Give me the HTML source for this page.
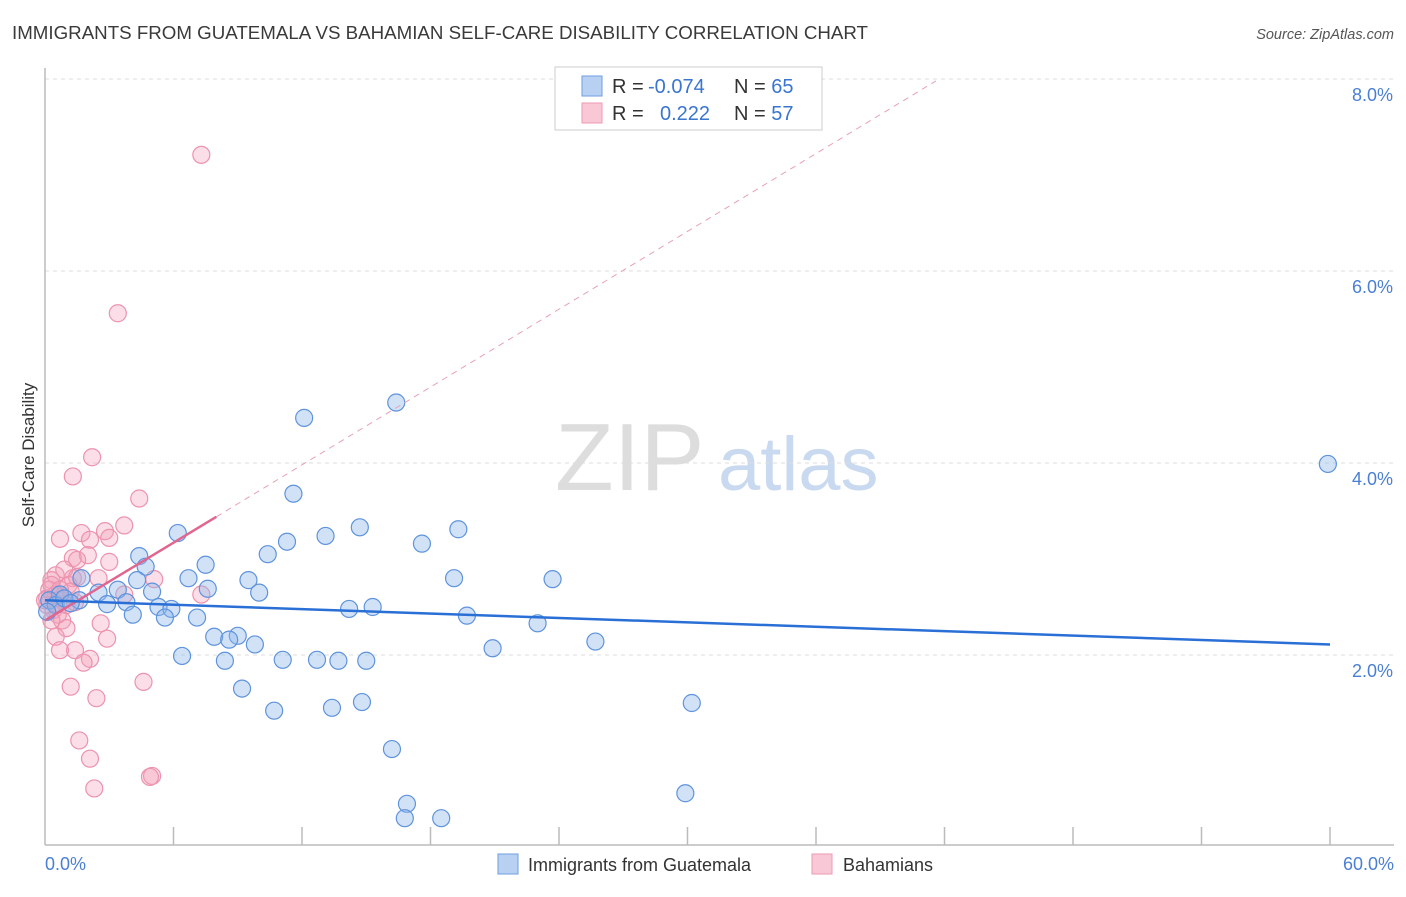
<!DOCTYPE html>
<html><head><meta charset="utf-8"><style>
body{margin:0;background:#fff;font-family:"Liberation Sans",sans-serif}
svg text{font-family:"Liberation Sans",sans-serif}
</style></head><body>
<svg id="chart" width="1406" height="892" viewBox="0 0 1406 892" xmlns="http://www.w3.org/2000/svg">
<text x="12" y="39" font-size="18.5" fill="#3a3a3a" textLength="856" lengthAdjust="spacingAndGlyphs">IMMIGRANTS FROM GUATEMALA VS BAHAMIAN SELF-CARE DISABILITY CORRELATION CHART</text>
<text x="1394" y="39" font-size="14.5" fill="#555" text-anchor="end" font-style="italic">Source: ZipAtlas.com</text>
<g>
<text x="555" y="490" font-size="96" fill="#ddd" font-family="Liberation Serif,serif">ZIP</text>
<text x="718" y="490" font-size="76" fill="#c9d9ef">atlas</text>
</g>
<g id="grid"></g>
<line x1="45" y1="68" x2="45" y2="845" stroke="#bbb" stroke-width="1.5"/>
<line x1="45" y1="845" x2="1394" y2="845" stroke="#bbb" stroke-width="1.5"/>
<g id="ticks"></g>
<text transform="translate(34,455) rotate(-90)" font-size="17" fill="#333" text-anchor="middle">Self-Care Disability</text>
<text x="45" y="870" font-size="18" fill="#4a7fd4">0.0%</text>
<text x="1394" y="870" font-size="18" fill="#4a7fd4" text-anchor="end">60.0%</text>
<g id="points"></g>
<g id="trends"></g>
<g>
<rect x="555" y="67" width="267" height="63" fill="#fff" stroke="#ccc"/>
<rect x="582" y="76" width="20" height="20" fill="#b8d1f3" stroke="#6f9ee0"/>
<rect x="582" y="103" width="20" height="20" fill="#f9c8d6" stroke="#ec9ab2"/>
<text x="612" y="93" font-size="20" fill="#333">R = </text>
<text x="648" y="93" font-size="20" fill="#3a75d0">-0.074</text>
<text x="734" y="93" font-size="20" fill="#333">N = <tspan fill="#3a75d0">65</tspan></text>
<text x="612" y="120" font-size="20" fill="#333">R = </text>
<text x="660" y="120" font-size="20" fill="#3a75d0">0.222</text>
<text x="734" y="120" font-size="20" fill="#333">N = <tspan fill="#3a75d0">57</tspan></text>
</g>
<g>
<rect x="498" y="854" width="20" height="20" fill="#b8d1f3" stroke="#6f9ee0"/>
<text x="528" y="871" font-size="18" fill="#333">Immigrants from Guatemala</text>
</g>
<g>
<rect x="812" y="854" width="20" height="20" fill="#f9c8d6" stroke="#ec9ab2"/>
<text x="843" y="871" font-size="18" fill="#333">Bahamians</text>
</g>
</svg>
<script>
const yTicks=[2,4,6,8];
const yTickLabels=["2.0%","4.0%","6.0%","8.0%"];
const xTicks=[6,12,18,24,30,36,42,48,54,60];
const blueX=[59.9,16.4,12.1,11.6,6.2,19.3,14.7,13.1,11.3,17.6,10.4,4.4,7.5,4.7,6.7,9.5,19.1,23.7,4.3,1.7,3.4,7.6,10.0,5.0,2.5,0.7,1.6,2.9,3.8,5.3,5.9,14.2,15.3,19.7,4.1,5.6,7.1,23.0,7.9,9.0,8.6,9.8,25.7,20.9,6.4,8.4,11.1,12.7,13.7,15.0,9.2,14.8,30.2,10.7,13.4,16.2,29.9,16.9,16.8,18.5,0.2,0.5,0.9,0.1,1.2];
const blueY=[3.99,4.63,4.47,3.68,3.27,3.31,3.33,3.24,3.18,3.16,3.05,3.03,2.94,2.92,2.80,2.78,2.80,2.79,2.78,2.80,2.68,2.69,2.65,2.66,2.65,2.63,2.57,2.53,2.55,2.50,2.48,2.48,2.50,2.41,2.42,2.39,2.39,2.33,2.19,2.20,2.16,2.11,2.14,2.07,1.99,1.94,1.95,1.95,1.94,1.94,1.65,1.51,1.50,1.42,1.45,1.02,0.56,0.45,0.30,0.30,2.57,2.52,2.59,2.45,2.54];
const pinkX=[7.3,3.4,2.2,1.3,4.4,3.7,0.7,1.7,2.8,2.1,3.0,2.0,1.3,1.5,3.0,5.1,0.5,1.3,2.5,1.1,0.3,3.7,7.3,0.2,0.5,0.8,0.1,0.4,1.0,0.6,0.8,1.0,2.6,0.3,0.5,2.9,1.4,0.7,2.1,1.8,4.6,1.2,2.4,1.6,2.1,5.0,4.9,2.3,0.1,1.2,0.3,0.9,0.0,1.5,0.5,0.7,1.4];
const pinkY=[7.21,5.56,4.06,3.86,3.63,3.35,3.21,3.27,3.29,3.20,3.22,3.04,3.01,2.99,2.97,2.79,2.83,2.80,2.80,2.73,2.78,2.63,2.63,2.68,2.63,2.57,2.52,2.47,2.52,2.42,2.36,2.28,2.33,2.36,2.19,2.17,2.05,2.05,1.96,1.92,1.72,1.67,1.55,1.11,0.92,0.74,0.73,0.61,2.59,2.66,2.73,2.89,2.57,2.81,2.54,2.68,2.55];
const blueTrend=[[0,2.57],[60,2.11]];
const pinkTrendSolid=[[0,2.36],[8.0,3.44]];
const pinkTrendDash=[[8.0,3.44],[41.6,7.98]];
const NS="http://www.w3.org/2000/svg";
function sx(v){return 45+v*(1285/60);}
function sy(v){return 847-v*96;}
function mk(tag,attrs,parent){const e=document.createElementNS(NS,tag);for(const k in attrs)e.setAttribute(k,attrs[k]);parent.appendChild(e);return e;}
const grid=document.getElementById('grid');
yTicks.forEach((t,i)=>{
  const l=mk('line',{x1:45,x2:1394,y1:sy(t),y2:sy(t),stroke:'#ddd','stroke-dasharray':'4,4'},grid);
  
  
  const tx=mk('text',{x:1393,y:sy(t)+22,'font-size':18,fill:'#4a7fd4','text-anchor':'end'},grid);
  tx.textContent=yTickLabels[i];
  
  
});
const ticks=document.getElementById('ticks');
xTicks.forEach(t=>{
  const l=mk('line',{x1:sx(t),x2:sx(t),y1:827,y2:845,stroke:'#bbb','stroke-width':1.5},ticks);
  
  
});
const pts=document.getElementById('points');
pinkX.forEach((x,i)=>{
  const c=mk('circle',{cx:sx(x),cy:sy(pinkY[i]),r:8.5,fill:'rgba(244,160,186,0.35)',stroke:'#ec93ae','stroke-width':1.2},pts);
  
  
});
blueX.forEach((x,i)=>{
  const c=mk('circle',{cx:sx(x),cy:sy(blueY[i]),r:8.5,fill:'rgba(140,182,235,0.4)',stroke:'#5f93dc','stroke-width':1.2},pts);
  
  
});
const tr=document.getElementById('trends');
function line(p,attrs,name){const l=mk('line',Object.assign({x1:sx(p[0][0]),y1:sy(p[0][1]),x2:sx(p[1][0]),y2:sy(p[1][1])},attrs),tr);}
line(pinkTrendDash,{stroke:'#e8a0b6','stroke-width':1,'stroke-dasharray':'6,5'},'bahamians-trend-extension');
line(pinkTrendSolid,{stroke:'#e06690','stroke-width':2.5},'bahamians-trend-line');
line(blueTrend,{stroke:'#2a6fd6','stroke-width':2.5},'guatemala-trend-line');
</script>
</body></html>
